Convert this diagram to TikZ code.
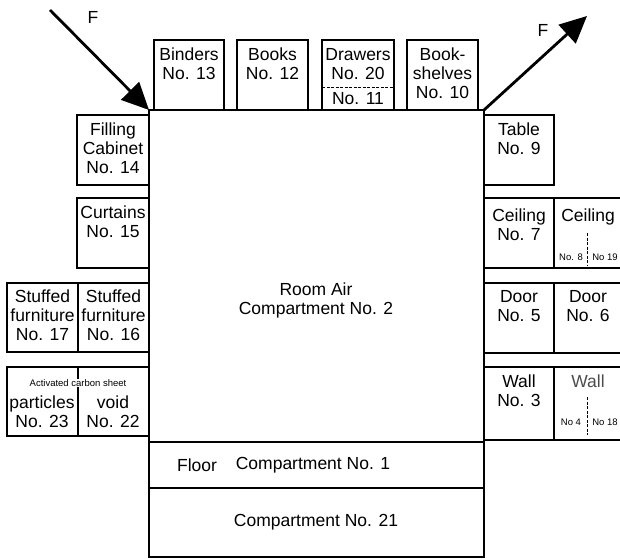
\documentclass[tikz,border=0pt]{standalone}
\usepackage{fontspec}
\setmainfont{Liberation Sans}
\usetikzlibrary{arrows.meta,positioning}
\begin{document}
\begin{tikzpicture}[x=1pt,y=-1pt,
  box/.style={draw, line width=1.5pt, rectangle, anchor=north west, inner sep=0pt, outer sep=0pt},
  txt/.style={align=center, font=\fontsize{17.5}{19}\selectfont, inner sep=0pt},
  small/.style={font=\fontsize{9.5}{11}\selectfont, inner sep=0.5pt},
  divider/.style={dashed, line width=0.7pt, dash pattern=on 3pt off 1.5pt},
  farrow/.style={line width=2.8pt, -{Triangle[length=27pt,width=25pt]}}
]
\useasboundingbox (0,0) rectangle (620,559);
% main compartments
\node[box, minimum width=335, minimum height=332] (room) at (149,110) {};
\node[box, minimum width=335, minimum height=46] (floor) at (149,442) {};
\node[box, minimum width=335, minimum height=69] (c21) at (149,488) {};
% top row
\node[box, minimum width=70, minimum height=70] (b13) at (154,40) {};
\node[box, minimum width=71, minimum height=70] (b12) at (237,40) {};
\node[box, minimum width=72, minimum height=70] (b20) at (322,40) {};
\node[box, minimum width=71, minimum height=70] (b10) at (407,40) {};
% left column
\node[box, minimum width=72, minimum height=70] (b14) at (77,115) {};
\node[box, minimum width=72, minimum height=70] (b15) at (77,198) {};
\node[box, minimum width=71, minimum height=69] (b17) at (7,283) {};
\node[box, minimum width=71, minimum height=69] (b16) at (78,283) {};
\node[box, minimum width=71, minimum height=69] (b23) at (7,367) {};
\node[box, minimum width=71, minimum height=69] (b22) at (78,367) {};
% right column
\node[box, minimum width=70, minimum height=70] (b9) at (484,115) {};
\node[box, minimum width=70, minimum height=70] (b7) at (484,198) {};
\node[box, minimum width=68, minimum height=70] (b8) at (554,198) {};
\node[box, minimum width=70, minimum height=70] (b5) at (484,283) {};
\node[box, minimum width=68, minimum height=70] (b6) at (554,283) {};
\node[box, minimum width=70, minimum height=73] (b3) at (484,367) {};
\node[box, minimum width=68, minimum height=73] (b4) at (554,367) {};
% dashed dividers
\coordinate (d20w) at (322,87);
\coordinate (d20e) at (394,87);
\draw[divider] (d20w) -- (d20e);
\coordinate (d8t) at (587,233);
\coordinate (d8b) at (587,265);
\draw[divider] (d8t) -- (d8b);
\coordinate (d4t) at (587,397);
\coordinate (d4b) at (587,435);
\draw[divider] (d4t) -- (d4b);
% labels
\node[txt] (troom) at (316,300) {Room Air\\Compartment No. 2};
\node[txt] (tfloor) at (197,465) {Floor};
\node[txt] (tc1) at (313,465) {Compartment No. 1};
\node[txt] (tc21) at (316,522) {Compartment No. 21};
\node[txt, below=8pt of b13.north] (t13) {Binders\\No. 13};
\node[txt, below=8pt of b12.north] (t12) {Books\\No. 12};
\node[txt, below=8pt of b20.north] (t20) {Drawers\\No. 20};
\node[txt] (t11) at (358,99) {No. 11};
\node[txt, below=8pt of b10.north] (t10) {Book-\\shelves\\No. 10};
\node[txt, below=8pt of b14.north] (t14) {Filling\\Cabinet\\No. 14};
\node[txt, below=8pt of b15.north] (t15) {Curtains\\No. 15};
\node[txt, below=7pt of b17.north] (t17) {Stuffed\\furniture\\No. 17};
\node[txt, below=7pt of b16.north] (t16) {Stuffed\\furniture\\No. 16};
\node[small, fill=white] (tcarbon) at (78,383) {Activated carbon sheet};
\node[txt] (t23) at (42,412) {particles\\No. 23};
\node[txt] (t22) at (113,412) {void\\No. 22};
\node[txt, below=8pt of b9.north] (t9) {Table\\No. 9};
\node[txt, below=11pt of b7.north] (t7) {Ceiling\\No. 7};
\node[txt, below=11pt of b8.north] (t8) {Ceiling};
\node[small] (t8a) at (571,257) {No. 8};
\node[small] (t19) at (605,257) {No 19};
\node[txt, below=7pt of b5.north] (t5) {Door\\No. 5};
\node[txt, below=7pt of b6.north] (t6) {Door\\No. 6};
\node[txt, below=8pt of b3.north] (t3) {Wall\\No. 3};
\node[txt, below=8pt of b4.north, text=black!70] (t4w) {Wall};
\node[small] (t4) at (571,422) {No 4};
\node[small] (t18) at (605,422) {No 18};
% flow arrows
\coordinate (fin) at (50,10);
\coordinate (fout) at (587,16);
\draw[farrow] (fin) -- (room.north west);
\draw[farrow] (room.north east) -- (fout);
\node[txt] (fl) at (93,17) {F};
\node[txt] (fr) at (543,30) {F};
\end{tikzpicture}
\end{document}
